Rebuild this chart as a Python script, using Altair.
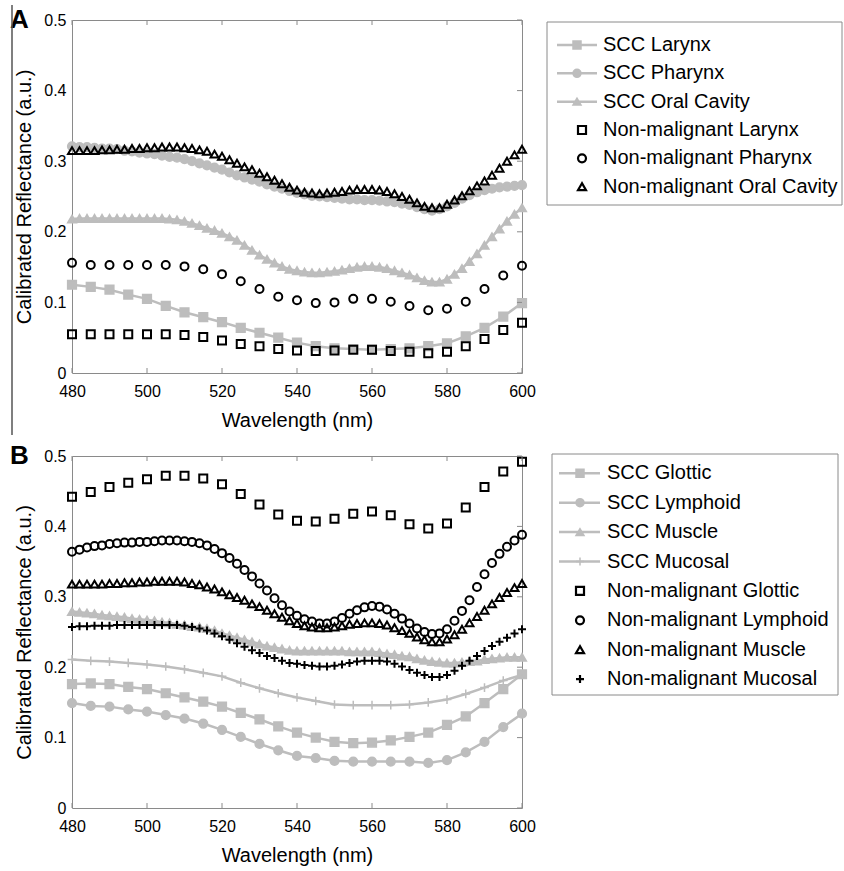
import altair as alt
import pandas as pd

WL2 = list(range(480, 601, 2))
WL5 = list(range(480, 601, 5))
X_TICKS = [480, 500, 520, 540, 560, 580, 600]
Y_TICKS = [0, 0.1, 0.2, 0.3, 0.4, 0.5]

# ---------------- Panel A ----------------
A_SCC_LARYNX = [.125, .122, .118, .111, .105, .095, .086, .079, .072, .064, .057, .050, .043,
                .038, .035, .034, .033, .034, .035, .038, .042, .052, .064, .080, .099]
A_SCC_PHARYNX = [.321, .320, .320, .319, .318, .318, .317, .315, .314, .312, .311, .310, .308, .306,
                 .305, .303, .300, .297, .294, .291, .288, .284, .280, .277, .274, .271, .267, .264,
                 .261, .258, .255, .253, .251, .250, .249, .248, .247, .246, .246, .245, .245, .244,
                 .243, .242, .240, .238, .235, .232, .230, .232, .236, .241, .247, .252, .256, .259,
                 .261, .263, .264, .265, .266]
A_SCC_ORAL = [.218, .219, .219, .219, .219, .219, .219, .219, .219, .219, .219, .219, .219, .218,
              .217, .215, .212, .209, .205, .202, .198, .193, .188, .181, .174, .167, .161, .156,
              .151, .147, .145, .143, .142, .142, .143, .144, .146, .148, .150, .151, .151, .150,
              .148, .145, .142, .139, .135, .131, .129, .129, .133, .140, .148, .158, .169, .181,
              .193, .204, .215, .225, .234]
A_NM_LARYNX = [.055, .055, .055, .055, .055, .055, .054, .051, .046, .041, .038, .034, .032,
               .031, .032, .033, .033, .031, .030, .028, .030, .038, .048, .061, .071]
A_NM_PHARYNX = [.156, .153, .153, .153, .153, .153, .151, .147, .140, .130, .119, .108, .103,
                .099, .100, .105, .105, .101, .095, .089, .091, .101, .119, .138, .152]
A_NM_ORAL = [.315, .315, .315, .315, .316, .316, .317, .317, .318, .318, .319, .319, .320, .320,
             .320, .319, .318, .316, .314, .310, .307, .302, .297, .292, .288, .283, .278, .273,
             .268, .263, .259, .256, .255, .254, .255, .256, .257, .259, .260, .260, .260, .259,
             .257, .254, .250, .246, .241, .236, .234, .234, .239, .245, .251, .258, .265, .272,
             .280, .290, .300, .309, .317]

# ---------------- Panel B ----------------
B_SCC_GLOTTIC = [.176, .177, .176, .172, .169, .163, .157, .151, .144, .135, .126, .116, .107,
                 .100, .094, .092, .093, .096, .101, .107, .118, .130, .149, .169, .190]
B_SCC_LYMPHOID = [.149, .145, .144, .140, .137, .132, .127, .120, .111, .101, .091, .082, .074,
                  .071, .067, .066, .066, .066, .066, .064, .068, .079, .094, .115, .134]
B_SCC_MUSCLE = [.279, .278, .277, .276, .274, .273, .272, .271, .269, .268, .267, .266, .264, .263,
                .261, .260, .258, .257, .255, .252, .248, .245, .242, .239, .236, .233, .230, .228,
                .226, .224, .223, .223, .223, .223, .223, .223, .223, .222, .222, .222, .222, .221,
                .219, .218, .216, .215, .212, .210, .208, .207, .206, .206, .207, .208, .209, .211,
                .212, .213, .214, .214, .214]
B_SCC_MUCOSAL = [.211, .209, .208, .206, .204, .201, .197, .192, .187, .178, .170, .163, .157,
                 .152, .147, .146, .146, .146, .147, .150, .154, .162, .171, .181, .189]
B_NM_GLOTTIC = [.442, .449, .456, .462, .467, .472, .472, .468, .460, .446, .431, .417, .408,
                .407, .411, .418, .421, .416, .403, .397, .404, .427, .456, .478, .492]
B_NM_LYMPHOID = [.364, .367, .370, .372, .373, .375, .376, .377, .377, .378, .378, .379, .380, .380,
                 .380, .379, .378, .376, .373, .368, .362, .355, .347, .338, .329, .319, .309, .298,
                 .288, .279, .273, .268, .265, .262, .262, .265, .270, .276, .281, .285, .287, .286,
                 .282, .276, .269, .262, .255, .250, .247, .248, .254, .266, .280, .295, .314, .332,
                 .348, .361, .371, .380, .388]
B_NM_MUSCLE = [.318, .318, .318, .318, .318, .319, .319, .320, .320, .321, .321, .322, .322, .322,
               .322, .321, .319, .317, .314, .311, .307, .303, .299, .295, .290, .286, .281, .276,
               .271, .266, .262, .259, .257, .256, .256, .257, .259, .261, .262, .263, .263, .262,
               .260, .256, .252, .248, .243, .239, .236, .236, .240, .246, .254, .263, .272, .281,
               .290, .299, .306, .313, .319]
B_NM_MUCOSAL = [.257, .258, .258, .259, .259, .259, .260, .260, .260, .260, .260, .260, .260, .260,
                .260, .259, .257, .255, .252, .248, .244, .239, .234, .229, .224, .220, .216, .213,
                .209, .206, .205, .203, .202, .201, .201, .202, .204, .206, .208, .209, .209, .209,
                .208, .205, .201, .196, .192, .189, .186, .186, .189, .195, .202, .209, .216, .223,
                .230, .236, .242, .248, .254]

PLUS = "M-1,0H1M0,-1V1"

SERIES_A = [
    ("SCC Larynx", "scc", WL5, A_SCC_LARYNX, "square"),
    ("SCC Pharynx", "scc", WL2, A_SCC_PHARYNX, "circle"),
    ("SCC Oral Cavity", "scc", WL2, A_SCC_ORAL, "triangle-up"),
    ("Non-malignant Larynx", "nm", WL5, A_NM_LARYNX, "square"),
    ("Non-malignant Pharynx", "nm", WL5, A_NM_PHARYNX, "circle"),
    ("Non-malignant Oral Cavity", "nm", WL2, A_NM_ORAL, "triangle-up"),
]
SERIES_B = [
    ("SCC Glottic", "scc", WL5, B_SCC_GLOTTIC, "square"),
    ("SCC Lymphoid", "scc", WL5, B_SCC_LYMPHOID, "circle"),
    ("SCC Muscle", "scc", WL2, B_SCC_MUSCLE, "triangle-up"),
    ("SCC Mucosal", "scc", WL5, B_SCC_MUCOSAL, PLUS),
    ("Non-malignant Glottic", "nm", WL5, B_NM_GLOTTIC, "square"),
    ("Non-malignant Lymphoid", "nm", WL2, B_NM_LYMPHOID, "circle"),
    ("Non-malignant Muscle", "nm", WL2, B_NM_MUSCLE, "triangle-up"),
    ("Non-malignant Mucosal", "nm", WL2, B_NM_MUCOSAL, PLUS),
]

GRAY = "#bdbdbd"
FRAME = "#8a8a8a"
FONT = "Liberation Sans"
W = 450


def panel(series, letter, h, vline, leg):
    rows = []
    for name, kind, wl, vals, _ in series:
        for x, v in zip(wl, vals):
            rows.append({"wl": x, "val": v, "series": name, "kind": kind})
    df = pd.DataFrame(rows)
    names = [s[0] for s in series]
    shapes = [s[4] for s in series]
    kinds = [s[1] for s in series]
    xs = alt.Scale(domain=[480, 600], nice=False, zero=False)
    ys = alt.Scale(domain=[0, 0.5], nice=False, zero=False)
    shp = alt.Scale(domain=names, range=shapes)
    xax = alt.Axis(values=X_TICKS, title="Wavelength (nm)", labelFlush=False,
                   labelPadding=10, titlePadding=11)
    yax = alt.Axis(values=Y_TICKS, format="~g", title="Calibrated Reflectance (a.u.)",
                   labelFlush=False, labelPadding=6, titlePadding=9)
    X = alt.X("wl:Q", scale=xs, axis=xax)
    Y = alt.Y("val:Q", scale=ys, axis=yax)
    Yn = alt.Y("val:Q", scale=ys, axis=None)
    base = alt.Chart(df)
    lines = base.transform_filter(alt.datum.kind == "scc").mark_line(
        color=GRAY, strokeWidth=2.5).encode(x=X, y=Y, detail="series:N")
    scc = base.transform_filter(alt.datum.kind == "scc").mark_point(
        filled=True, color=GRAY, stroke=GRAY, strokeWidth=1.5, size=76, opacity=1
    ).encode(x=X, y=Yn, shape=alt.Shape("series:N", scale=shp, legend=None))
    nm = base.transform_filter(alt.datum.kind == "nm").mark_point(
        filled=False, color="black", strokeWidth=2, size=64, opacity=1
    ).encode(x=X, y=Yn, shape=alt.Shape("series:N", scale=shp, legend=None))

    xt = pd.DataFrame({"wl": X_TICKS})
    yt = pd.DataFrame({"yt": Y_TICKS})
    bt = alt.Chart(xt).mark_rule(color=FRAME).encode(
        x=X, y=alt.value(h), y2=alt.value(h - 5))
    tt = alt.Chart(xt).mark_rule(color=FRAME).encode(
        x=X, y=alt.value(0), y2=alt.value(5))
    rt = alt.Chart(yt).mark_rule(color=FRAME).encode(
        y=alt.Y("yt:Q", scale=ys, axis=None), x=alt.value(W - 5), x2=alt.value(W))
    lab = alt.Chart(pd.DataFrame({"t": [letter]})).mark_text(
        font=FONT, fontSize=26, fontWeight="bold", align="left", baseline="alphabetic",
        color="black").encode(text="t:N", x=alt.value(-62), y=alt.value(8))
    layers = [lines, scc, nm, bt, tt, rt, lab]
    if vline:
        vl = alt.Chart(pd.DataFrame({"t": [0]})).mark_rule(color="#555555", strokeWidth=1.5).encode(
            x=alt.value(-60), y=alt.value(-15), y2=alt.value(415))
        layers.append(vl)

    # ---- legend (drawn inside the same layer, to the right of the plot) ----
    bx0, bx1, by0, by1, first, step, x0, x1, xm, xn, xtxt = leg
    ldf = pd.DataFrame({"series": names, "row": list(range(len(names))), "kind": kinds})
    lys = alt.Scale(domain=[-first / step, (h - first) / step], reverse=True, nice=False, zero=False)
    LY = alt.Y("row:Q", scale=lys, axis=None)
    box = alt.Chart(pd.DataFrame({"t": [0]})).mark_rect(
        fill="white", stroke=FRAME, strokeWidth=1).encode(
        x=alt.value(bx0), x2=alt.value(bx1), y=alt.value(by0), y2=alt.value(by1))
    lb = alt.Chart(ldf)
    lr = lb.transform_filter(alt.datum.kind == "scc").mark_rule(
        color=GRAY, strokeWidth=2.5).encode(x=alt.value(x0), x2=alt.value(x1), y=LY)
    lp1 = lb.transform_filter(alt.datum.kind == "scc").mark_point(
        filled=True, color=GRAY, stroke=GRAY, strokeWidth=1.5, size=64, opacity=1
    ).encode(x=alt.value(xm), y=LY, shape=alt.Shape("series:N", scale=shp, legend=None))
    lp2 = lb.transform_filter(alt.datum.kind == "nm").mark_point(
        filled=False, color="black", strokeWidth=2.2, size=64, opacity=1
    ).encode(x=alt.value(xn), y=LY, shape=alt.Shape("series:N", scale=shp, legend=None))
    lt = lb.mark_text(font=FONT, fontSize=20, align="left", baseline="middle",
                      color="black").encode(x=alt.value(xtxt), y=LY, text="series:N")
    layers += [box, lr, lp1, lp2, lt]
    return alt.layer(*layers).resolve_scale(y="independent").properties(width=W, height=h)


LEG_A = (475, 770, 2, 185, 25, 28.33, 485, 525, 505, 510, 531)
LEG_B = (480, 766, -2, 239, 17.3, 29.4, 487, 528, 508, 508, 535)

pA = panel(SERIES_A, "A", 353, True, LEG_A)
pB = panel(SERIES_B, "B", 352, False, LEG_B)

chart = alt.vconcat(pA, pB, spacing=83, bounds="flush").resolve_scale(
    x="independent", y="independent", shape="independent"
).properties(
    padding={"left": 9, "top": 3, "right": 0, "bottom": 0}
).configure(font=FONT).configure_view(
    stroke=FRAME, strokeWidth=1
).configure_axis(
    labelFontSize=16, titleFontSize=20, titleFontWeight="normal", labelColor="black",
    titleColor="black", domain=False, ticks=False, grid=False, labelFont=FONT, titleFont=FONT
)

chart.save("out.html", embed_options={"renderer": "svg", "actions": False})
